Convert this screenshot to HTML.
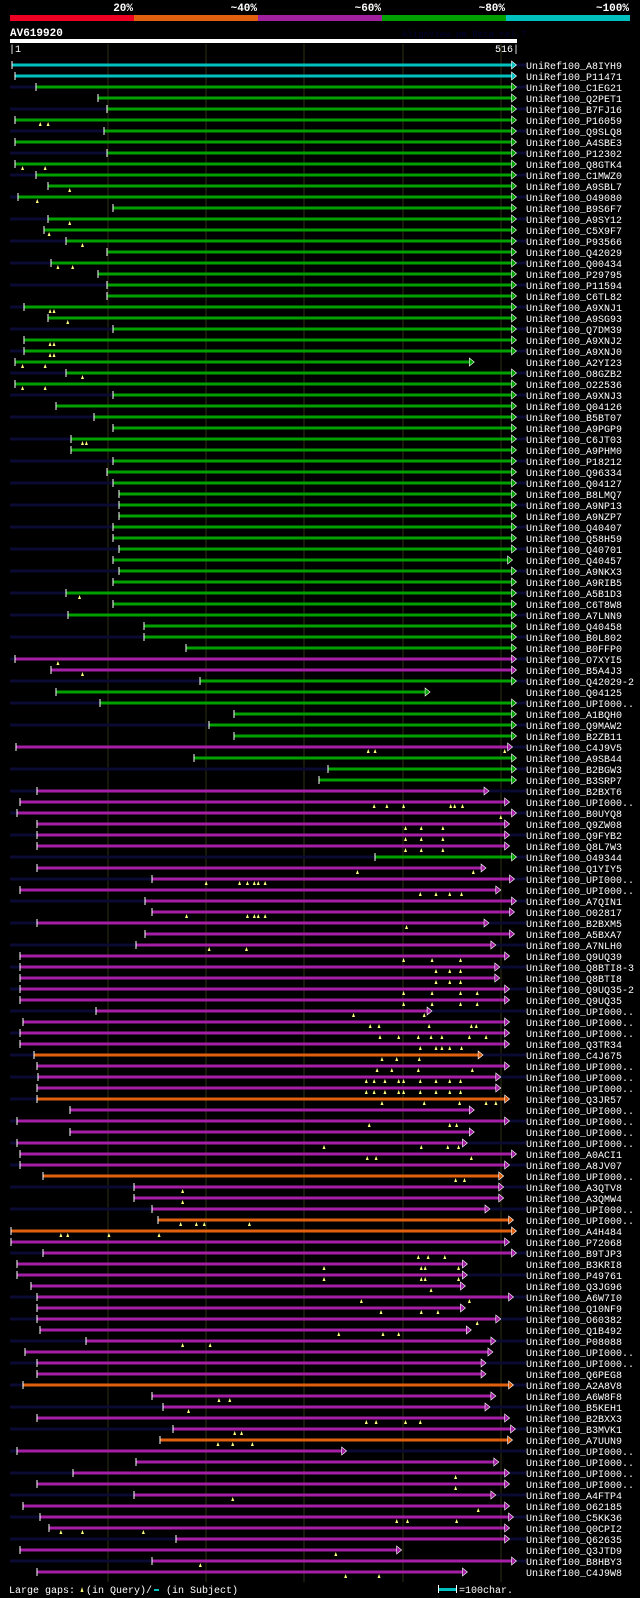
<!DOCTYPE html>
<html><head><meta charset="utf-8"><style>
html,body{margin:0;padding:0;background:#000;}
svg{display:block;}
text{font-family:"Liberation Mono",monospace;}
</style></head><body>
<svg id="chart" width="640" height="1598" viewBox="0 0 640 1598" xmlns="http://www.w3.org/2000/svg">
<rect x="0" y="0" width="640" height="1598" fill="#000"/>
<g>
<rect x="10" y="15" width="124" height="6" fill="#ee0022"/>
<rect x="134" y="15" width="124" height="6" fill="#e06010"/>
<rect x="258" y="15" width="124" height="6" fill="#a020a0"/>
<rect x="382" y="15" width="124" height="6" fill="#00a000"/>
<rect x="506" y="15" width="124" height="6" fill="#00c0c0"/>
<text x="133" y="11" fill="#fff" font-size="11" font-weight="bold" text-anchor="end">20%</text>
<text x="257" y="11" fill="#fff" font-size="11" font-weight="bold" text-anchor="end">~40%</text>
<text x="381" y="11" fill="#fff" font-size="11" font-weight="bold" text-anchor="end">~60%</text>
<text x="505" y="11" fill="#fff" font-size="11" font-weight="bold" text-anchor="end">~80%</text>
<text x="629" y="11" fill="#fff" font-size="11" font-weight="bold" text-anchor="end">~100%</text>
</g>
<text x="10" y="36" fill="#fff" font-size="11" font-weight="bold">AV619920</text>
<text x="402" y="37" fill="#000033" font-size="9">AlignView.pm Beta rel.7</text>
<rect x="10" y="39" width="507" height="4" fill="#fff"/>
<text x="9" y="52" fill="#fff" font-size="10">|1</text>
<text x="519" y="52" fill="#fff" font-size="10" text-anchor="end">516|</text>
<g id="grid"></g>
<g id="rows"></g>
<g>
<text x="9" y="1593" fill="#fff" font-size="10">Large gaps:</text>
<path d="M80.5,1592 L83.5,1592 L82,1587 Z" fill="#ffff80"/>
<text x="86" y="1593" fill="#fff" font-size="10">(in Query)/</text>
<rect x="154" y="1589" width="5" height="2" fill="#00c0c0"/>
<text x="166" y="1593" fill="#fff" font-size="10">(in Subject)</text>
<rect x="439" y="1588" width="17" height="3" fill="#00c0c0"/>
<rect x="438" y="1585" width="1" height="8" fill="#fff"/>
<rect x="456" y="1585" width="1" height="8" fill="#fff"/>
<text x="459" y="1593" fill="#fff" font-size="10">=100char.</text>
</g>
</svg>
<script>
const names=["A8IYH9","P11471","C1EG21","Q2PET1","B7FJ16","P16059","Q9SLQ8","A4SBE3","P12302","Q8GTK4","C1MWZ0","A9SBL7","O49080","B9S6F7","A9SY12","C5X9F7","P93566","Q42029","Q00434","P29795","P11594","C6TL82","A9XNJ1","A9SG93","Q7DM39","A9XNJ2","A9XNJ0","A2YI23","O8GZB2","O22536","A9XNJ3","Q04126","B5BT07","A9PGP9","C6JT03","A9PHM0","P18212","Q96334","Q04127","B8LMQ7","A9NP13","A9NZP7","Q40407","Q58H59","Q40701","Q40457","A9NKX3","A9RIB5","A5B1D3","C6T8W8","A7LNN9","Q40458","B0L802","B0FFP0","O7XYI5","B5A4J3","Q42029-2","Q04125","UPI000..","A1BQH0","Q9MAW2","B2ZB11","C4J9V5","A9SB44","B2BGW3","B3SRP7","B2BXT6","UPI000..","B0UYQ8","Q9ZW08","Q9FYB2","Q8L7W3","O49344","Q1YIY5","UPI000..","UPI000..","A7QIN1","O02817","B2BXM5","A5BXA7","A7NLH0","Q9UQ39","Q8BTI8-3","Q8BTI8","Q9UQ35-2","Q9UQ35","UPI000..","UPI000..","UPI000..","Q3TR34","C4J675","UPI000..","UPI000..","UPI000..","Q3JR57","UPI000..","UPI000..","UPI000..","UPI000..","A0ACI1","A8JV07","UPI000..","A3QTV8","A3QMW4","UPI000..","UPI000..","A4H484","P72068","B9TJP3","B3KRI8","P49761","Q3JG96","A6W7I0","Q10NF9","O60382","Q1B492","P08088","UPI000..","UPI000..","Q6PEG8","A2A8V8","A6W8F8","B5KEH1","B2BXX3","B3MVK1","A7UUN9","UPI000..","UPI000..","UPI000..","UPI000..","A4FTP4","O62185","C5KK36","Q0CPI2","Q62635","Q3JTD9","B8HBY3","C4J9W8"];
const starts=[2,5,27,90,99,5,96,5,99,5,27,39,8,105,39,35,57,99,42,90,99,99,14,39,105,14,14,5,57,5,105,47,86,105,62,62,105,99,105,111,111,111,105,105,111,105,111,105,57,105,59,137,137,179,5,42,194,47,92,228,203,228,6,188,324,315,28,10,7,28,28,28,372,28,145,10,138,145,28,138,129,10,10,10,10,10,88,13,10,10,25,28,29,28,28,61,7,61,7,10,10,34,126,126,145,151,1,1,34,7,7,22,28,28,28,31,78,15,28,28,13,145,156,28,166,153,7,129,64,28,126,13,31,40,169,10,145,28];
const ends=[516,516,516,516,516,516,516,516,516,516,516,516,516,516,516,516,516,516,516,516,516,516,516,516,516,516,516,473,516,516,516,516,516,516,516,516,516,516,516,516,516,516,516,516,516,512,516,516,516,516,516,516,516,516,516,516,516,428,516,516,516,516,512,516,516,516,488,509,516,509,509,509,516,485,514,500,516,514,488,514,495,509,499,499,509,509,430,509,509,509,482,509,500,500,509,473,509,473,466,516,509,503,503,503,489,513,516,509,516,466,466,464,513,464,500,470,495,492,485,485,513,495,489,509,515,512,343,498,509,509,495,509,513,509,509,399,516,466];
const colors=["c","c","g","g","g","g","g","g","g","g",
"g","g","g","g","g","g","g","g","g","g",
"g","g","g","g","g","g","g","g","g","g",
"g","g","g","g","g","g","g","g","g","g",
"g","g","g","g","g","g","g","g","g","g",
"g","g","g","g","p","p","g","g","g","g",
"g","g","p","g","g","g","p","p","p","p",
"p","p","g","p","p","p","p","p","p","p",
"p","p","p","p","p","p","p","p","p","p",
"o","p","p","p","o","p","p","p","p","p",
"p","o","p","p","p","o","o","p","p","p",
"p","p","p","p","p","p","p","p","p","p",
"o","p","p","p","p","o","p","p","p","p",
"p","p","p","p","p","p","p","p"];
const leftExt=[0,0,1,0,1,0,1,0,1,0, 1,0,1,0,1,0,1,0,1,0, 1,0,1,0,1,0,1,0,1,0, 1,0,1,0,1,0,1,0,1,0,
1,0,1,0,1,0,1,0,1,0, 1,0,1,0,1,0,1,0,1,0, 1,0,0,0,1,0,1,0,1,0, 1,0,1,0,1,0,1,0,1,0,
1,0,1,0,1,0,1,0,1,0, 1,0,1,0,1,0,1,0,1,0, 1,0,1,0,1,0,0,0,1,0, 0,0,1,0,1,0,1,0,1,0,
1,0,1,0,1,0,1,0,1,0, 1,0,1,0,1,0,1,0];
const rightExt=[1,0,1,0,1,0,1,0,1,0, 1,0,1,0,1,0,1,0,1,0, 1,0,1,0,1,0,1,0,1,0, 1,0,1,0,1,0,1,0,1,0,
1,0,1,0,1,0,1,0,1,0, 1,0,1,0,1,0,1,0,1,0, 1,0,1,0,1,0,1,0,1,0, 1,0,1,0,1,0,1,0,1,0,
1,0,1,0,1,0,1,0,0,0, 1,0,1,0,0,0,1,0,1,0, 1,0,1,0,1,0,0,0,1,0, 1,0,1,0,1,0,1,0,1,0,
1,0,1,0,1,0,1,0,1,0, 1,0,1,0,1,0,1,0];
const queryGaps=[[],[],[],[],[],[31,39],[],[],[],[13,36],[],[61],[28],[],[61],[40],[74],[],[49,64],[],[],[],[41,45],[59],[],[41,45],[41,45],[13,36],[74],[13,36],[],[],[],[],[74,78],[],[],[],[],[],[],[],[],[],[],[],[],[],[71],[],[],[],[],[],[49],[74],[],[],[],[],[],[],[365,372,504],[],[],[],[],[371,384,401,449,453,461],[500],[403,419,441],[403,419,441],[403,419,441],[],[354,472],[200,234,242,249,253,260],[418,434,448,460],[],[180,242,249,253,260],[404],[],[203,241],[401,430,459],[434,448,459],[434,448,459],[401,430,459,476],[401,430,459,476],[350,422],[367,376,427,470,475],[377,396,416,429,440,468,485],[418,434,440,448,460],[379,394,417],[374,389,416,471],[363,371,382,396,401,418,434,448,459],[363,371,382,396,401,418,434,448,459],[379,422,458,485,495],[],[366,448,455],[],[320,419,446,457],[364,373,470],[],[454,463],[176],[176],[],[174,190,198,244],[52,59,101,152],[],[416,426,443],[320,419,423,457],[320,419,423,457],[429],[358,468],[378,419,436],[476],[335,380,396],[176,204],[],[],[],[],[213,224],[182],[363,373,403,418],[229,236],[212,227,247],[],[],[454],[454],[227],[477],[394,405,455],[52,74,136],[],[332],[194],[342,376]];
const gridTicks=[100,200,300,400,500];

const NS="http://www.w3.org/2000/svg";
const xScale=r=>9.8+r*0.982;
const yScale=i=>65+i*11;
const palette={c:"#00c0c0",g:"#00a000",p:"#a41fa6",o:"#e06010"};
function mk(tag,attrs,parent){const e=document.createElementNS(NS,tag);for(const k in attrs)e.setAttribute(k,attrs[k]);parent.appendChild(e);return e;}
const grid=document.getElementById('grid');
gridTicks.forEach(t=>{
  const l=mk('rect',{x:Math.round(xScale(t))-0.5,y:44,width:1,height:1538,fill:'#2e2e14'},grid);
  
  
});
const rows=document.getElementById('rows');
names.forEach((n,i)=>{
  const y=yScale(i);
  const g=mk('g',{},rows);
  
  
  const col=palette[colors[i]];
  const xs=xScale(starts[i]), xe=xScale(ends[i]);
  if(leftExt[i]===1){
    const e=mk('rect',{x:10,y:y-1.5,width:Math.max(0,xs-10),height:3,fill:'#0a0a33'},g);
    
    
  }
  if(rightExt[i]===1){
    const e=mk('rect',{x:xe,y:y-1.5,width:Math.max(0,526-xe),height:3,fill:'#0a0a33'},g);
    
    
  }
  const bar=mk('rect',{x:xs,y:y-1.5,width:Math.max(0,xe-5-xs),height:3,fill:col},g);
  
  
  const arr=mk('path',{d:`M${xe-5},${y-4} L${xe},${y} L${xe-5},${y+4} Z`,fill:col,stroke:'#fff','stroke-width':0.6},g);
  
  
  const tick=mk('rect',{x:Math.round(xs)-0.5,y:y-4,width:1,height:8,fill:'#fff'},g);
  
  
  queryGaps[i].forEach(q=>{
    const qx=xScale(q);
    const t=mk('path',{d:`M${qx-1.5},${y+6} L${qx+1.5},${y+6} L${qx},${y+2} Z`,fill:'#ffff80'},g);
    
    
  });
  const lab=mk('text',{x:526,y:y+4,fill:'#fff','font-size':10},g);
  lab.textContent='UniRef100_'+n;
  
  
});
</script>
</body></html>
